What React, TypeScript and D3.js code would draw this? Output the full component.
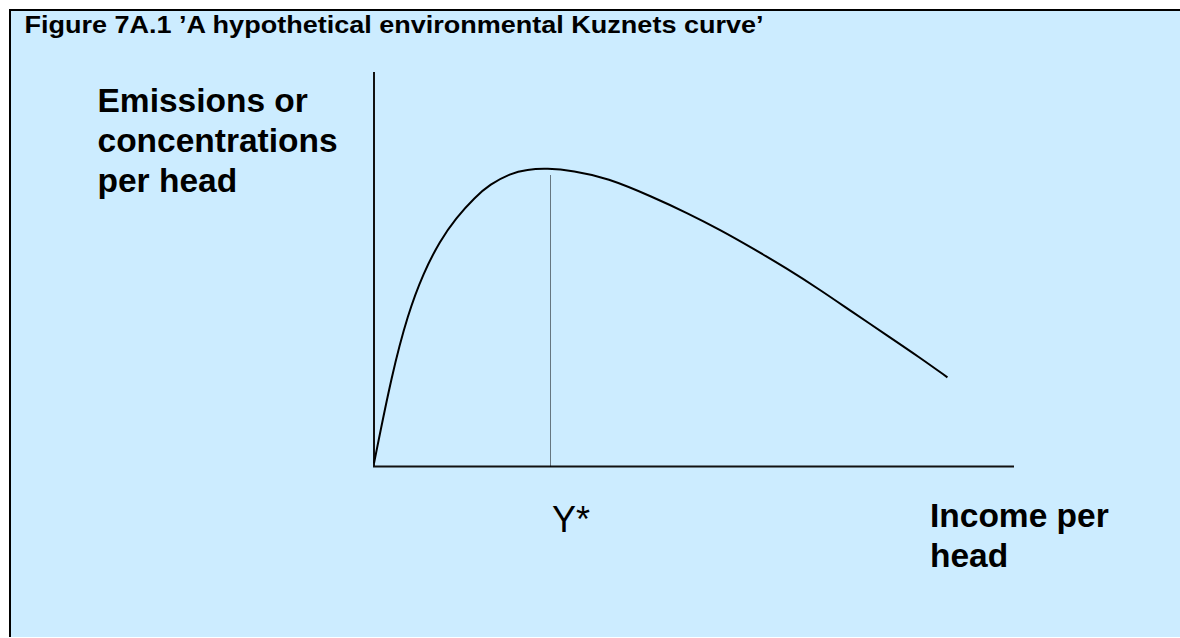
import React, { useEffect, useRef } from 'react';
import * as d3 from 'd3';

const W = 1180;
const H = 638;

// curve, arbitrary units (0-100 on both axes)
const income = [0, 2.8, 5.3, 7.7, 10.3, 12.8, 15.8, 18.1, 21.3, 23.9, 27.0, 31.1, 36.4, 43.6, 48.9, 54.1, 59.2, 64.5, 69.7, 74.8, 80.2, 85.3, 89.6];
const emissions = [0.8, 23.5, 38.7, 49.0, 57.2, 63.0, 68.3, 71.5, 74.3, 75.3, 75.6, 75.0, 73.2, 68.3, 64.3, 60.0, 55.3, 50.2, 44.8, 39.1, 33.2, 27.6, 22.6];

// turning point Y* and the top of its dotted guide
const peakIncome = 27.5;
const peakGuideTop = 74;

const titleText = 'Figure 7A.1 \u2019A hypothetical environmental Kuznets curve\u2019';
const yLabelLines = ['Emissions or', 'concentrations', 'per head'];
const xLabelLines = ['Income per', 'head'];
const peakLabel = 'Y*';

const FONT = '"Liberation Sans", Arial, Helvetica, sans-serif';

export default function App() {
    const svgRef = useRef<SVGSVGElement>(null);

    useEffect(() => {
        const svg = d3.select(svgRef.current);
        svg.selectAll('*').remove();

        const x = d3.scaleLinear().domain([0, 100]).range([374, 1014]);
        const y = d3.scaleLinear().domain([0, 100]).range([466.5, 72]);

        // panel background + border (top and left only)
        svg.append('rect')
            .attr('x', 10).attr('y', 10)
            .attr('width', W - 10).attr('height', 627)
            .attr('fill', '#ccecff');
        svg.append('line')
            .attr('x1', 9).attr('x2', W).attr('y1', 10).attr('y2', 10)
            .attr('stroke', '#000').attr('stroke-width', 2);
        svg.append('line')
            .attr('x1', 10).attr('x2', 10).attr('y1', 9).attr('y2', 637)
            .attr('stroke', '#000').attr('stroke-width', 2);

        svg.append('text')
            .attr('x', 24.5).attr('y', 33)
            .attr('font-family', FONT).attr('font-weight', 'bold')
            .attr('font-size', 23)
            .attr('textLength', 739).attr('lengthAdjust', 'spacingAndGlyphs')
            .attr('fill', '#000')
            .text(titleText);

        // axes, no ticks
        svg.append('line')
            .attr('x1', x(0)).attr('x2', x(0))
            .attr('y1', y(0)).attr('y2', y(100))
            .attr('stroke', '#111').attr('stroke-width', 2);
        svg.append('line')
            .attr('x1', x(0) - 1).attr('x2', x(100))
            .attr('y1', y(0)).attr('y2', y(0))
            .attr('stroke', '#111').attr('stroke-width', 2);

        // dotted guide at Y*
        svg.append('line')
            .attr('x1', x(peakIncome) + 0.5).attr('x2', x(peakIncome) + 0.5)
            .attr('y1', y(0)).attr('y2', y(peakGuideTop))
            .attr('stroke', '#000').attr('stroke-width', 1)
            .attr('stroke-dasharray', '1,1');

        const pts: [number, number][] = income.map((d, i) => [d, emissions[i]]);
        const line = d3.line<[number, number]>()
            .x(d => x(d[0]))
            .y(d => y(d[1]))
            .curve(d3.curveBasis);
        svg.append('path')
            .attr('d', line(pts))
            .attr('fill', 'none')
            .attr('stroke', '#000')
            .attr('stroke-width', 2);

        const yLab = svg.append('text')
            .attr('font-family', FONT).attr('font-weight', 'bold')
            .attr('font-size', 33.5).attr('fill', '#000');
        const yBase = [111.5, 152, 192];
        yLabelLines.forEach((t, i) => {
            yLab.append('tspan').attr('x', 97.5).attr('y', yBase[i]).text(t);
        });

        const xLab = svg.append('text')
            .attr('font-family', FONT).attr('font-weight', 'bold')
            .attr('font-size', 33.5).attr('fill', '#000');
        xLabelLines.forEach((t, i) => {
            xLab.append('tspan').attr('x', 930).attr('y', 527 + i * 40).text(t);
        });

        svg.append('text')
            .attr('x', x(peakIncome) + 2).attr('y', 532)
            .attr('font-family', FONT).attr('font-size', 36)
            .attr('fill', '#000')
            .text(peakLabel);
    }, []);

    return (
        <div style={{ position: 'absolute', left: 0, top: 0, width: W, height: H, background: '#fff' }}>
            <svg ref={svgRef} width={W} height={H} style={{ display: 'block' }} />
        </div>
    );
}
